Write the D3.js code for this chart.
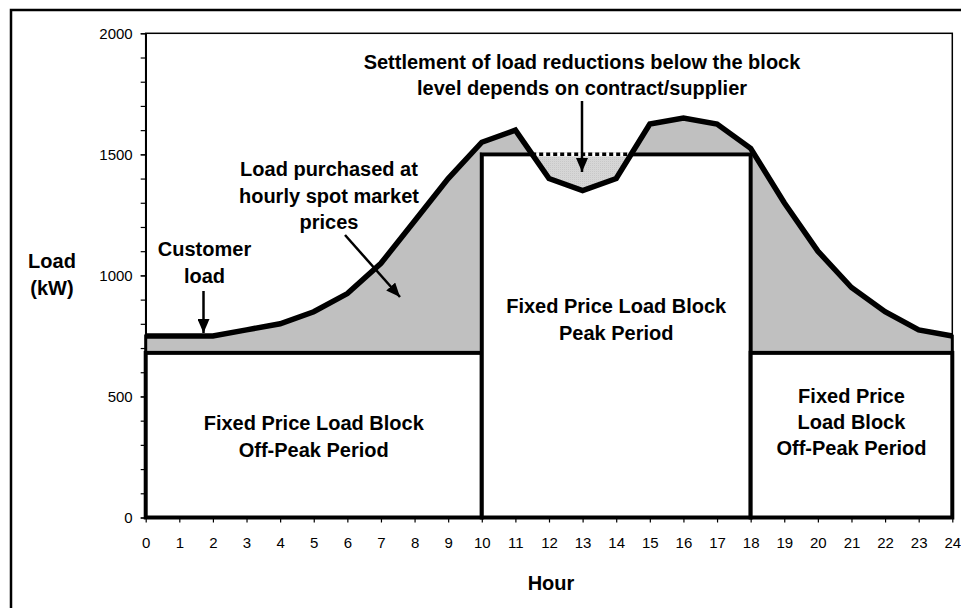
<!DOCTYPE html>
<html>
<head>
<meta charset="utf-8">
<script src="https://cdn.jsdelivr.net/npm/d3@7"></script>
<style>
  body { margin: 0; background: #fff; }
  svg text { font-family: "Liberation Sans", Arial, sans-serif; fill: #000; }
  .note { font-weight: bold; font-size: 20px; }
</style>
</head>
<body>
<div class="chart"></div>
<script>
// hourly customer load (kW)
var hours = [0, 1, 2, 3, 4, 5, 6, 7, 8, 9, 10, 11, 12, 13, 14, 15, 16, 17, 18, 19, 20, 21, 22, 23, 24];
var customerLoad = [750, 750, 750, 775, 800, 850, 925, 1050, 1225, 1400, 1550, 1600, 1400,
  1350, 1400, 1625, 1650, 1625, 1525, 1300, 1100, 950, 850, 775, 750];

// fixed price load blocks
var blockStart = [0, 10, 18];
var blockEnd = [10, 18, 24];
var blockLevel = [680, 1500, 680];

var yMajorTicks = [0, 500, 1000, 1500, 2000];
var yMinorTicks = [0, 100, 200, 300, 400, 500, 600, 700, 800, 900, 1000, 1100, 1200,
  1300, 1400, 1500, 1600, 1700, 1800, 1900, 2000];

var svgWidth = 961;
var svgHeight = 608;
var margin = { top: 33.3, right: 8.7, bottom: 90.5, left: 145.7 };
var width = svgWidth - margin.left - margin.right;
var height = svgHeight - margin.top - margin.bottom;

var svg = d3.select(".chart").append("svg")
  .attr("width", svgWidth)
  .attr("height", svgHeight);

// stipple for the reduction area
var defs = svg.append("defs");
var pat = defs.append("pattern")
  .attr("id", "stipple")
  .attr("width", 2).attr("height", 2)
  .attr("patternUnits", "userSpaceOnUse");
pat.append("rect").attr("width", 2).attr("height", 2).attr("fill", "#eeeeee");
pat.append("rect").attr("width", 1).attr("height", 1).attr("fill", "#a8a8a8");
pat.append("rect").attr("x", 1).attr("y", 1).attr("width", 1).attr("height", 1).attr("fill", "#c8c8c8");

// arrow head, pointing along the line
defs.append("marker")
  .attr("id", "head")
  .attr("markerUnits", "userSpaceOnUse")
  .attr("viewBox", "0 0 14 12")
  .attr("refX", 14).attr("refY", 6)
  .attr("markerWidth", 14).attr("markerHeight", 12)
  .attr("orient", "auto")
  .append("path")
  .attr("d", "M0,0 L14,6 L0,12 Z")
  .attr("fill", "#000");

// outer frame
svg.append("rect")
  .attr("x", 11).attr("y", 10)
  .attr("width", 1000).attr("height", 700)
  .attr("fill", "none")
  .attr("stroke", "#000")
  .attr("stroke-width", 2.5);

var chartGroup = svg.append("g")
  .attr("transform", `translate(${margin.left}, ${margin.top})`);

var x = d3.scaleLinear().domain([0, 24]).range([0, width]);
var y = d3.scaleLinear().domain([0, 2000]).range([height, 0]);

// plot frame
chartGroup.append("rect")
  .attr("width", width).attr("height", height)
  .attr("fill", "none")
  .attr("stroke", "#000")
  .attr("stroke-width", 1.5);

// load bought on the spot market (everything under the load curve)
var underLoad = d3.area()
  .x((d, i) => x(hours[i]))
  .y0(height)
  .y1(d => y(d));

chartGroup.append("path")
  .attr("d", underLoad(customerLoad))
  .attr("fill", "#c0c0c0")
  .attr("stroke", "#000")
  .attr("stroke-width", 3);

// the fixed price blocks
chartGroup.selectAll(".block")
  .data(blockLevel)
  .enter()
  .append("rect")
  .attr("class", "block")
  .attr("x", (d, i) => x(blockStart[i]))
  .attr("y", d => y(d))
  .attr("width", (d, i) => x(blockEnd[i]) - x(blockStart[i]))
  .attr("height", d => height - y(d))
  .attr("fill", "#fff")
  .attr("stroke", "#000")
  .attr("stroke-width", 4);

// reduction below the peak block
var peakLevel = blockLevel[1];
defs.append("clipPath").attr("id", "below-peak")
  .append("rect")
  .attr("x", x(blockStart[1]))
  .attr("y", y(peakLevel) - 2)
  .attr("width", x(blockEnd[1]) - x(blockStart[1]))
  .attr("height", height - y(peakLevel) + 2);

var dip = d3.area()
  .x((d, i) => x(hours[i]))
  .y0(y(peakLevel) - 2)
  .y1(d => y(d));

chartGroup.append("path")
  .attr("d", dip(customerLoad))
  .attr("clip-path", "url(#below-peak)")
  .attr("fill", "url(#stipple)");

// where the load crosses the block level
var crossings = [];
for (var i = 1; i < hours.length; i++) {
  var a = customerLoad[i - 1] - peakLevel;
  var b = customerLoad[i] - peakLevel;
  if (hours[i] > blockStart[1] && hours[i] <= blockEnd[1] && a * b < 0) {
    crossings.push(hours[i - 1] + a / (a - b));
  }
}

chartGroup.append("line")
  .attr("x1", x(crossings[0])).attr("x2", x(crossings[1]))
  .attr("y1", y(peakLevel)).attr("y2", y(peakLevel))
  .attr("stroke", "#fff")
  .attr("stroke-width", 4);

chartGroup.append("line")
  .attr("x1", x(crossings[0])).attr("x2", x(crossings[1]))
  .attr("y1", y(peakLevel)).attr("y2", y(peakLevel))
  .attr("stroke", "#000")
  .attr("stroke-width", 3.5)
  .attr("stroke-dasharray", "4,3");

// customer load line
var loadLine = d3.line()
  .x((d, i) => x(hours[i]))
  .y(d => y(d));

chartGroup.append("path")
  .attr("d", loadLine(customerLoad))
  .attr("fill", "none")
  .attr("stroke", "#000")
  .attr("stroke-width", 5.5)
  .attr("stroke-linejoin", "miter");

// axes
var minorAxis = d3.axisLeft(y).tickValues(yMinorTicks).tickSize(5).tickSizeOuter(0).tickFormat("");
var leftAxis = d3.axisLeft(y).tickValues(yMajorTicks).tickSize(5).tickSizeOuter(0)
  .tickPadding(8).tickFormat(d3.format("d"));
var bottomAxis = d3.axisBottom(x).tickValues(hours).tickSize(5).tickSizeOuter(0).tickPadding(15);

chartGroup.append("g").call(minorAxis);
var yAxisG = chartGroup.append("g").call(leftAxis);
var xAxisG = chartGroup.append("g")
  .attr("transform", `translate(0, ${height})`)
  .call(bottomAxis);

chartGroup.selectAll(".tick line").attr("stroke", "#000").attr("stroke-width", 1.2);
chartGroup.selectAll(".domain").attr("stroke", "#000").attr("stroke-width", 1.5);
yAxisG.selectAll("text").attr("font-size", "15px").attr("font-family", null);
xAxisG.selectAll("text").attr("font-size", "15px").attr("font-family", null);
xAxisG.select(".domain").remove();

// annotation text
function note(lines, cx, firstBaseline, step) {
  var t = svg.append("text")
    .attr("class", "note")
    .attr("text-anchor", "middle");
  lines.forEach(function(s, i) {
    t.append("tspan")
      .attr("x", cx)
      .attr("y", firstBaseline + i * step)
      .text(s);
  });
}

note(["Settlement of load reductions below the block", "level depends on contract/supplier"], 582, 69, 26);
note(["Load purchased at", "hourly spot market", "prices"], 329, 176, 26.7);
note(["Customer", "load"], 204.5, 256, 26.5);
note(["Fixed Price Load Block", "Off-Peak Period"], margin.left + x(5), 430, 26.5);
note(["Fixed Price Load Block", "Peak Period"], margin.left + x(14), 313, 26.5);
note(["Fixed Price", "Load Block", "Off-Peak Period"], margin.left + x(21), 402.7, 26.3);
note(["Load", "(kW)"], 52, 267.5, 27);
note(["Hour"], 551, 590, 0);

// arrows
function arrow(x1, y1, x2, y2) {
  svg.append("line")
    .attr("x1", x1).attr("y1", y1)
    .attr("x2", x2).attr("y2", y2)
    .attr("stroke", "#000")
    .attr("stroke-width", 2.5)
    .attr("marker-end", "url(#head)");
}

arrow(582, 101, 582, 172);
arrow(203.5, 291, 203.5, 333);
arrow(345, 235, 400, 297);
</script>
</body>
</html>
